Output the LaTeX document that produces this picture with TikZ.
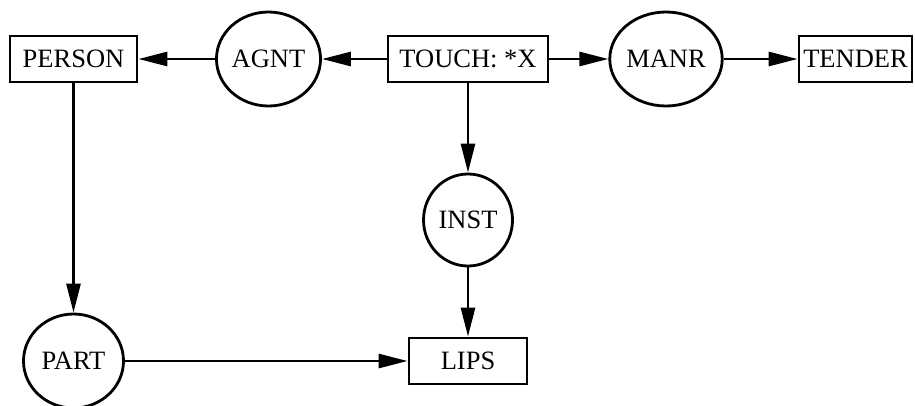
\documentclass[tikz,border=0pt]{standalone}
\usepackage{fontspec}
\setmainfont{Liberation Serif}
\usetikzlibrary{arrows.meta,shapes.geometric}

\begin{document}
\begin{tikzpicture}[x=1pt,y=-1pt,
  every node/.style={font=\fontsize{26.5}{31}\selectfont, inner sep=0pt},
  concept/.style={draw, line width=2.8pt, rectangle, minimum height=46pt},
  relation/.style={draw, line width=2.8pt, ellipse},
  link/.style={line width=2.8pt, -{Triangle[length=29pt,width=14pt]}}]
  \useasboundingbox (0,0) rectangle (915,405);

  % caption, mostly above the visible area
  \node[anchor=base] (cap) at (107,-5.5) {(a)};

  % concepts (boxes)
  \node[concept, minimum width=127pt] (person) at (73.5,59) {PERSON};
  \node[concept, minimum width=160pt] (touch)  at (468,59)  {TOUCH: *X};
  \node[concept, minimum width=113pt] (tender) at (855.5,59) {TENDER};
  \node[concept, minimum width=118pt] (lips)   at (468,361) {LIPS};

  % relations (circles)
  \node[relation, minimum width=100pt, minimum height=94pt] (agnt) at (268.5,59) {AGNT};
  \node[relation, minimum width=100pt, minimum height=94pt] (manr) at (666,59)   {MANR};
  \node[relation, minimum width=89pt,  minimum height=92pt] (inst) at (468,220)  {INST};
  \node[relation, minimum width=100pt, minimum height=94pt] (part) at (73.5,361) {PART};

  % arcs
  \draw[link] (touch.west) -- (agnt.east);
  \draw[link] (agnt.west) -- (person.east);
  \draw[link] (touch.east) -- (manr.west);
  \draw[link] (manr.east) -- (tender.west);
  \draw[link] (touch.south) -- (inst.north);
  \draw[link] (inst.south) -- (lips.north);
  \draw[link] (person.south) -- (part.north);
  \draw[link] (part.east) -- (lips.west);
\end{tikzpicture}
\end{document}
